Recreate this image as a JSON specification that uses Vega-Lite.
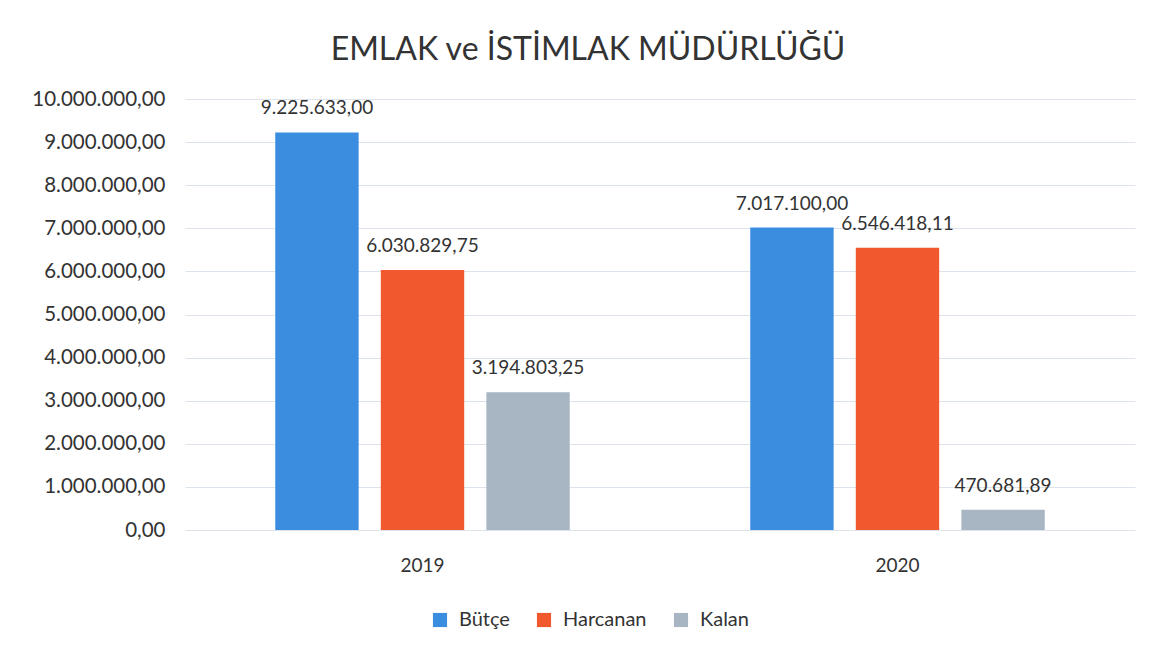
{
  "$schema": "https://vega.github.io/schema/vega-lite/v6.json",
  "width": 950,
  "height": 431,
  "padding": {"left": 20, "top": 34, "right": 28, "bottom": 10},
  "background": "white",
  "config": {
    "locale": {"number": {"decimal": ",", "thousands": ".", "grouping": [3], "currency": ["", ""]}},
    "font": "Lato",
    "view": {"stroke": null}
  },
  "title": {"text": "EMLAK ve İSTİMLAK MÜDÜRLÜĞÜ", "fontSize": 32, "fontWeight": "normal", "color": "#333333", "font": "Lato", "offset": 22, "dx": -72},
  "data": {"values": [
    {"yil": "2019", "seri": "Bütçe", "deger": 9225633.00},
    {"yil": "2019", "seri": "Harcanan", "deger": 6030829.75},
    {"yil": "2019", "seri": "Kalan", "deger": 3194803.25},
    {"yil": "2020", "seri": "Bütçe", "deger": 7017100.00},
    {"yil": "2020", "seri": "Harcanan", "deger": 6546418.11},
    {"yil": "2020", "seri": "Kalan", "deger": 470681.89}
  ]},
  "encoding": {
    "x": {"field": "yil", "type": "nominal", "scale": {"paddingInner": 0.38, "paddingOuter": 0.19},
      "axis": {"title": null, "labelAngle": 0, "labelFontSize": 19, "labelColor": "#333333", "domain": false, "ticks": false, "labelPadding": 26}},
    "xOffset": {"field": "seri", "type": "nominal", "sort": ["Bütçe", "Harcanan", "Kalan"], "scale": {"paddingInner": 0.21, "paddingOuter": 0}},
    "y": {"field": "deger", "type": "quantitative", "scale": {"domain": [0, 10000000]},
      "axis": {"title": null, "format": ",.2f", "values": [0,1000000,2000000,3000000,4000000,5000000,6000000,7000000,8000000,9000000,10000000], "labelOverlap": false, "labelFontSize": 20.5, "labelColor": "#333333", "domain": false, "ticks": false, "gridColor": "#dde3ea", "labelPadding": 20, "minExtent": 165, "maxExtent": 165}}
  },
  "layer": [
    {
      "mark": {"type": "bar"},
      "encoding": {
        "color": {"field": "seri", "type": "nominal", "sort": ["Bütçe", "Harcanan", "Kalan"],
          "scale": {"domain": ["Bütçe", "Harcanan", "Kalan"], "range": ["#3b8de0", "#f2582d", "#a8b5c3"]},
          "legend": {"title": null, "orient": "none", "legendX": 245, "legendY": 511, "direction": "horizontal", "symbolType": "square", "symbolSize": 200, "symbolStrokeWidth": 0, "labelFontSize": 20, "labelColor": "#333333", "labelOffset": 9, "columnPadding": 24}}
      }
    },
    {
      "mark": {"type": "text", "baseline": "bottom", "dy": -14, "fontSize": 19, "color": "#333333"},
      "encoding": {"text": {"field": "deger", "type": "quantitative", "format": ",.2f"}}
    }
  ]
}
